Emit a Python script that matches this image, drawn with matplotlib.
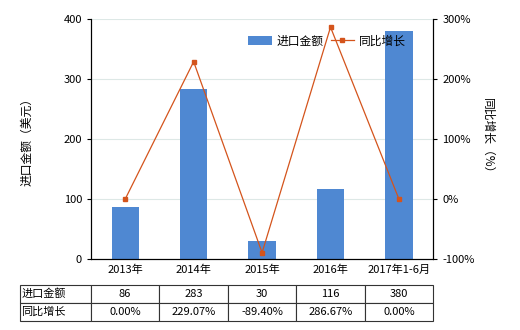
import numpy as np
import matplotlib
matplotlib.use('Agg')
import matplotlib.pyplot as plt

plt.rcParams['font.family'] = ['Noto Sans CJK SC', 'DejaVu Sans']

categories = ['2013年', '2014年', '2015年', '2016年', '2017年1-6月']
amount = [86, 283, 30, 116, 380]
growth = [0.00, 229.07, -89.40, 286.67, 0.00]
amount_txt = ['86', '283', '30', '116', '380']
growth_txt = ['0.00%', '229.07%', '-89.40%', '286.67%', '0.00%']

bar_color = '#4f88d2'
line_color = '#d4541c'

fig = plt.figure(figsize=(5.2, 3.3), dpi=100)
ax = fig.add_axes([0.175, 0.215, 0.658, 0.727])
x = np.arange(len(categories))

ax.bar(x, amount, width=0.4, color=bar_color, label='进口金额', zorder=2)
ax.set_xlim(-0.5, 4.5)
ax.set_ylim(0, 400)
ax.set_yticks([0, 100, 200, 300, 400])
ax.set_xticks(x)
ax.set_xticklabels(categories, fontsize=8)
ax.tick_params(axis='y', labelsize=8, length=3)
ax.tick_params(axis='x', length=0, pad=4)
ax.grid(axis='y', color='#dde8e6', linewidth=0.8, zorder=0)
ax.spines['top'].set_visible(False)
ax.set_ylabel('进口金额（美元）', fontsize=8.5, labelpad=22)

ax2 = ax.twinx()
ax2.plot(x, growth, color=line_color, linewidth=0.9, marker='s', markersize=3.5,
         label='同比增长', zorder=3)
ax2.set_ylim(-100, 300)
ax2.set_yticks([-100, 0, 100, 200, 300])
ax2.set_yticklabels(['-100%', '0%', '100%', '200%', '300%'])
ax2.tick_params(axis='y', labelsize=8, length=3)
ax2.spines['top'].set_visible(False)
ax2.set_ylabel('同比增长（%）', fontsize=8.5, rotation=270, labelpad=14)

h1, l1 = ax.get_legend_handles_labels()
h2, l2 = ax2.get_legend_handles_labels()
ax2.legend(h1 + h2, l1 + l2, loc='upper center', bbox_to_anchor=(0.69, 0.98),
           ncol=2, frameon=False, fontsize=8.5, handlelength=2.0,
           handletextpad=0.4, columnspacing=0.6)

cells = [['进口金额'] + amount_txt, ['同比增长'] + growth_txt]
tbl = ax.table(cellText=cells, cellLoc='center',
               colWidths=[71] + [68.4] * 5,
               bbox=[-0.208, -0.258, 1.208, 0.15])
tbl.auto_set_font_size(False)
tbl.set_fontsize(8)
for (r, c), cell in tbl.get_celld().items():
    cell.set_edgecolor('#333333')
    cell.set_linewidth(0.8)
    if c == 0:
        cell.get_text().set_ha('left')
        cell.PAD = 0.02

fig.savefig('out.png', dpi=100)
